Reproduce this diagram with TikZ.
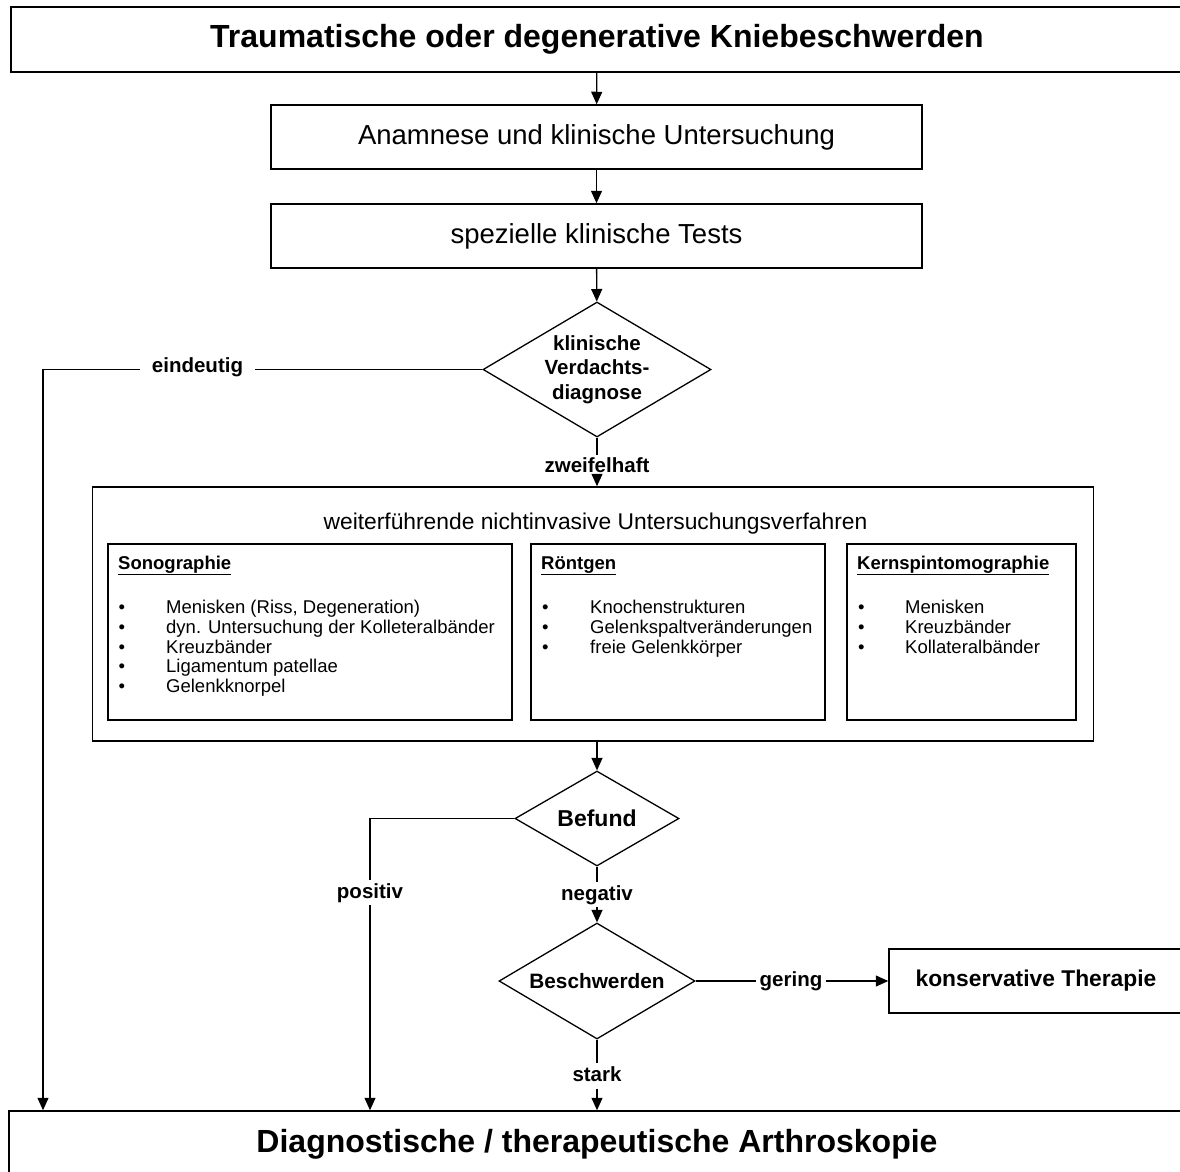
\documentclass[tikz,border=0pt]{standalone}
\usepackage{fontspec}
\setmainfont{Liberation Sans}
\usetikzlibrary{arrows.meta,shapes.geometric}
\tikzset{
  box/.style={draw,line width=1.5pt,rectangle,inner sep=0pt},
  dia/.style={draw,line width=1.3pt,diamond,inner sep=0pt,align=center},
  conn/.style={line width=1.3pt},
  arr/.style={line width=1.3pt,-{Triangle[length=12.5pt,width=11pt]}},
  lab/.style={font=\fontsize{20.5}{24}\selectfont\bfseries,text height=15pt,text depth=4pt,inner xsep=3pt,inner ysep=2pt},
  big/.style={font=\fontsize{32}{38}\selectfont\bfseries},
  mid/.style={font=\fontsize{27.5}{32}\selectfont},
  itm/.style={font=\fontsize{18.5}{22}\selectfont,anchor=base west,inner sep=0pt},
  hd/.style={font=\fontsize{18.5}{22}\selectfont\bfseries,anchor=base west,inner sep=0pt},
}
\begin{document}
\begin{tikzpicture}[x=1pt,y=-1pt]
\useasboundingbox (0,0) rectangle (1180,1171);
\clip (0,0) rectangle (1180,1171);
% main boxes
\node[box,line width=2pt,minimum width=1172pt,minimum height=65pt,big] (top) at (597,39.5) {Traumatische oder degenerative Kniebeschwerden};
\node[box,minimum width=651pt,minimum height=64pt,mid] (anam) at (596.5,137) {Anamnese und klinische Untersuchung};
\node[box,minimum width=651pt,minimum height=64pt,mid] (spez) at (596.5,236) {spezielle klinische Tests};
\node[dia,aspect=1.69,minimum width=228pt,minimum height=135pt,font=\fontsize{20.5}{24.5}\selectfont\bfseries] (d1) at (597,369.5) {klinische\\Verdachts-\\diagnose};
% nichtinvasive block
\node[box,minimum width=1001pt,minimum height=254pt] (blk) at (593,614) {};
\node[font=\fontsize{22.8}{27}\selectfont,inner sep=0pt] (blktitle) at (595.5,524) {weiterführende nichtinvasive Untersuchungsverfahren};
\node[box,minimum width=404pt,minimum height=176pt] (sono) at (310,632) {};
\node[box,minimum width=294pt,minimum height=176pt] (roen) at (678,632) {};
\node[box,minimum width=229pt,minimum height=176pt] (kern) at (961.5,632) {};
% Sonographie
\node[hd] (sonoh) at (118,569) {\underline{Sonographie}};
\foreach \t [count=\i] in {{Menisken (Riss, Degeneration)},{dyn. Untersuchung der Kolleteralbänder},Kreuzbänder,{Ligamentum patellae},Gelenkknorpel}{
  \node[itm] (sonob\i) at (118.5,594+19.7*\i) {•};
  \node[itm] (sonot\i) at (166,594+19.7*\i) {\t};
}
% Roentgen
\node[hd] (roenh) at (541,569) {\underline{Röntgen}};
\foreach \t [count=\i] in {Knochenstrukturen,Gelenkspaltveränderungen,{freie Gelenkkörper}}{
  \node[itm] (roenb\i) at (542,594+19.7*\i) {•};
  \node[itm] (roent\i) at (590,594+19.7*\i) {\t};
}
% Kernspin
\node[hd] (kernh) at (857,569) {\underline{Kernspintomographie}};
\foreach \t [count=\i] in {Menisken,Kreuzbänder,Kollateralbänder}{
  \node[itm] (kernb\i) at (858,594+19.7*\i) {•};
  \node[itm] (kernt\i) at (905,594+19.7*\i) {\t};
}
% lower part
\node[dia,aspect=1.73,minimum width=164pt,minimum height=95pt,font=\fontsize{23}{27}\selectfont\bfseries] (d2) at (597,818.5) {Befund};
\node[dia,aspect=1.69,minimum width=196pt,minimum height=116pt,font=\fontsize{20.8}{25}\selectfont\bfseries] (d3) at (597,981) {Beschwerden};
\node[box,minimum width=294pt,minimum height=64pt,font=\fontsize{22.8}{27}\selectfont\bfseries] (kons) at (1036,981) {konservative Therapie};
\node[box,minimum width=1176pt,minimum height=66pt,big] (bot) at (597,1144) {Diagnostische / therapeutische Arthroskopie};
% labels
\node[lab,inner xsep=12pt] (le) at (197.5,367) {eindeutig};
\node[lab,text depth=0pt] (lz) at (597,465) {zweifelhaft};
\node[lab,inner ysep=3pt] (lp) at (370,892.5) {positiv};
\node[lab,inner ysep=3pt] (ln) at (597,894.5) {negativ};
\node[lab] (lg) at (791,981) {gering};
\node[lab,inner ysep=3pt] (ls) at (597,1076) {stark};
\coordinate (c1) at (43,369.5);
\coordinate (c2) at (370,818.5);
% connectors
\draw[arr] (top) -- (anam);
\draw[arr] (anam) -- (spez);
\draw[arr] (spez) -- (d1);
\draw[conn] (d1.west) -- (d1.west -| le.east);
\draw[arr] (d1.west -| le.west) -- (c1) -- (c1 |- bot.north);
\draw[conn] (d1.south) -- (lz.north);
\draw[arr] (lz.south) -- (lz.south |- blk.north);
\draw[arr] (blk.south -| d2.north) -- (d2.north);
\draw[conn] (d2.west) -- (c2) -- (lp.north);
\draw[arr] (lp.south) -- (lp.south |- bot.north);
\draw[conn] (d2.south) -- (ln.north);
\draw[arr] (ln.south) -- (d3.north);
\draw[conn] (d3.east) -- (d3.east -| lg.west);
\draw[arr] (d3.east -| lg.east) -- (kons.west);
\draw[conn] (d3.south) -- (ls.north);
\draw[arr] (ls.south) -- (ls.south |- bot.north);
\end{tikzpicture}
\end{document}
